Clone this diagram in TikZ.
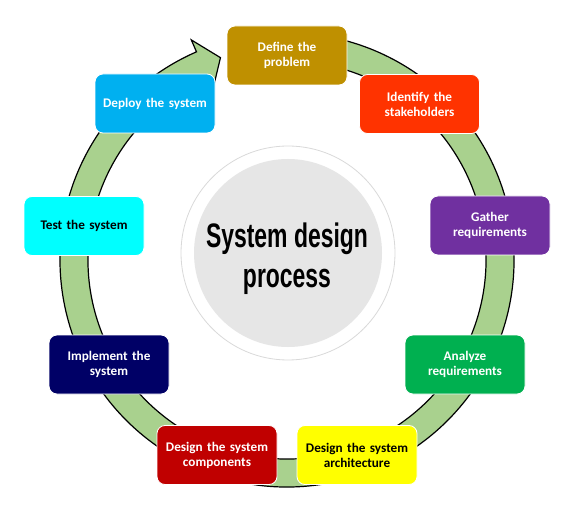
\documentclass[tikz,border=0pt]{standalone}
\usepackage{fontspec}
\setmainfont{Carlito}
\newfontfamily\titlefont{Liberation Sans}
\begin{document}
\begin{tikzpicture}[x=1pt,y=1pt,
  band/.style={fill=bandgreen, draw=black, line width=1.2pt, line join=miter},
  stepbox/.style={rounded corners=8pt, draw=white, line width=0.8pt,
    minimum width=120pt, minimum height=59pt, inner sep=2pt,
    text width=114pt, align=center, font=\bfseries\fontsize{13.2}{15}\selectfont,
    text=white},
  darktext/.style={text=black},
  titletext/.style={font=\titlefont\bfseries\fontsize{34}{39}\selectfont, inner sep=0pt, anchor=base}]
\definecolor{bandgreen}{HTML}{A9D18E}
\definecolor{cDefine}{HTML}{BF9000}
\definecolor{cIdentify}{HTML}{FF3300}
\definecolor{cGather}{HTML}{7030A0}
\definecolor{cAnalyze}{HTML}{00B050}
\definecolor{cArch}{HTML}{FFFF00}
\definecolor{cComp}{HTML}{C00000}
\definecolor{cImpl}{HTML}{000066}
\definecolor{cTest}{HTML}{00FFFF}
\definecolor{cDeploy}{HTML}{00B0F0}
\definecolor{ringgray}{HTML}{D9D9D9}
\definecolor{discgray}{HTML}{E6E6E6}

\useasboundingbox (0,0) rectangle (586,520);

% circular arrow running clockwise back to the first step
\begin{scope}[shift={(287,260)}]
  \draw[band] (100:227) arc[start angle=100, end angle=-246.5, radius=227]
    -- (113.5:240) -- (108.2:213) -- (113.5:186) -- (113.5:199)
    arc[start angle=-246.5, end angle=100, radius=199] -- cycle;
\end{scope}

% central disc
\node (ring) [circle, draw=ringgray, line width=0.8pt, fill=white, minimum size=214pt, inner sep=0pt] at (288,267) {};
\node (disc) [circle, fill=discgray, minimum size=188pt, inner sep=0pt] at (ring.center) {};
\node (title1) [titletext] at (287,272) {\scalebox{0.675}[1]{System design}};
\node (title2) [titletext] at (287,233) {\scalebox{0.675}[1]{process}};

% process steps
\node (define)   [stepbox, fill=cDefine]   at (287,464.5) {Define the\\problem};
\node (identify) [stepbox, fill=cIdentify] at (419.5,416) {Identify the\\stakeholders};
\node (gather)   [stepbox, fill=cGather]   at (490,294.5) {Gather\\requirements};
\node (analyze)  [stepbox, fill=cAnalyze]  at (465,155.5) {Analyze\\requirements};
\node (arch)     [stepbox, fill=cArch, darktext] at (357,65) {Design the system\\architecture};
\node (comp)     [stepbox, fill=cComp]     at (217,65) {Design the system\\components};
\node (impl)     [stepbox, fill=cImpl]     at (109,155.5) {Implement the\\system};
\node (test)     [stepbox, fill=cTest, darktext] at (84,294) {Test the system};
\node (deploy)   [stepbox, fill=cDeploy]   at (155,416.5) {Deploy the system};
\end{tikzpicture}
\end{document}
